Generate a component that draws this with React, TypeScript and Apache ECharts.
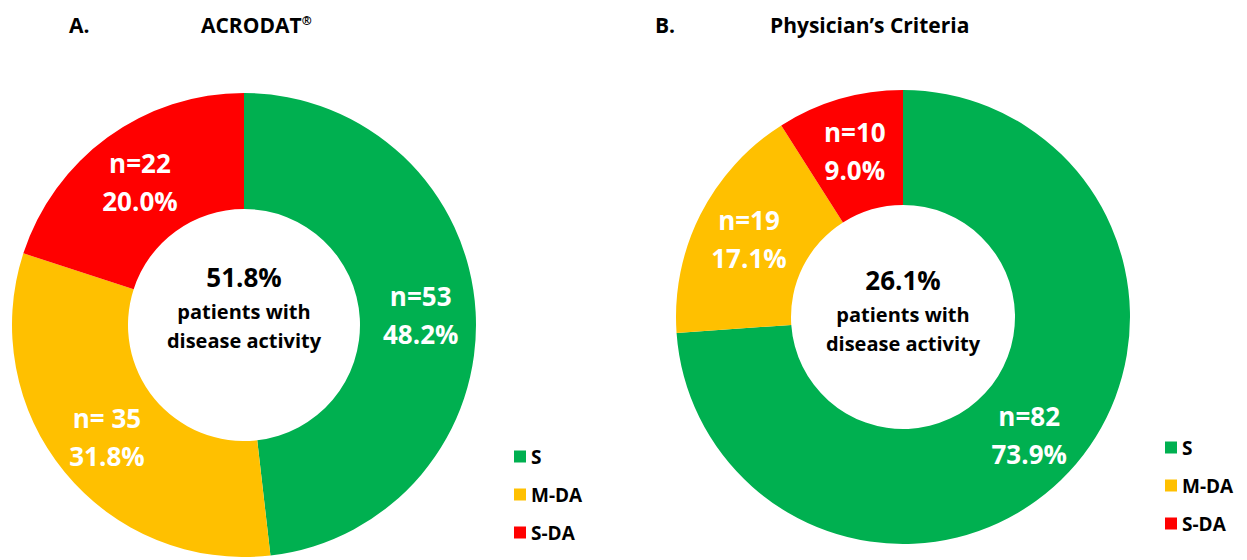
import React, { useEffect, useRef } from "react";
import * as echarts from "echarts";

const categories = ["S", "M-DA", "S-DA"];
const colors = ["#00B050", "#FFC000", "#FF0000"];
const acrodatValues = [53, 35, 22];
const acrodatPrefixes = ["n=", "n= ", "n="];
const physicianValues = [82, 19, 10];
const physicianPrefixes = ["n=", "n=", "n="];
const panelTitles = ["ACRODAT{sup|®}", "Physician’s Criteria"];
const panelLetters = ["A.", "B."];
const centerSubtitle = ["patients with", "disease activity"];

const FONT = "'Open Sans', 'Noto Sans', sans-serif";

function pct(values: number[], i: number) {
  const total = values.reduce((a, b) => a + b, 0);
  return ((values[i] / total) * 100).toFixed(1);
}
function activityPct(values: number[]) {
  const total = values.reduce((a, b) => a + b, 0);
  return (((total - values[0]) / total) * 100).toFixed(1);
}

function makeSeries(values: number[], prefixes: string[], center: number[], radius: number[]) {
  return {
    type: "pie",
    center,
    radius,
    startAngle: 90,
    clockwise: true,
    avoidLabelOverlap: false,
    silent: true,
    data: categories.map((c, i) => ({
      name: c,
      value: values[i],
      itemStyle: { color: colors[i] },
    })),
    label: {
      show: true,
      position: "inside",
      color: "#fff",
      fontFamily: FONT,
      fontWeight: "bold",
      fontSize: 26,
      lineHeight: 38,
      formatter: (p: any) => `${prefixes[p.dataIndex]}${p.value}\n${pct(values, p.dataIndex)}%`,
    },
    labelLine: { show: false },
  };
}

export default function App() {
  const ref = useRef<HTMLDivElement>(null);
  useEffect(() => {
    if (!ref.current) return;
    const chart = echarts.init(ref.current, null, { renderer: "svg" });
    const centerText = (x: number, yTop: number, values: number[]) => [
      {
        type: "text",
        x,
        y: yTop,
        style: {
          text: `${activityPct(values)}%`,
          fontFamily: FONT,
          fontWeight: "bold",
          fontSize: 26,
          fill: "#000",
          textAlign: "center",
          textVerticalAlign: "middle",
        },
      },
      {
        type: "text",
        x,
        y: yTop + 34,
        style: {
          text: centerSubtitle[0],
          fontFamily: FONT,
          fontWeight: "bold",
          fontSize: 20,
          fill: "#000",
          textAlign: "center",
          textVerticalAlign: "middle",
        },
      },
      {
        type: "text",
        x,
        y: yTop + 63,
        style: {
          text: centerSubtitle[1],
          fontFamily: FONT,
          fontWeight: "bold",
          fontSize: 20,
          fill: "#000",
          textAlign: "center",
          textVerticalAlign: "middle",
        },
      },
    ];
    const titleText = (x: number, text: string) => ({
      type: "text",
      x,
      y: 25,
      style: {
        text,
        fontFamily: FONT,
        fontWeight: "bold",
        fontSize: 21,
        fill: "#000",
        textAlign: "left",
        textVerticalAlign: "middle",
        rich: {
          sup: {
            fontFamily: FONT,
            fontWeight: "bold",
            fontSize: 12,
            verticalAlign: "top",
            padding: [0, 0, 10, 0],
            fill: "#000",
          },
        },
      },
    });
    const legendCommon = {
      orient: "vertical",
      icon: "rect",
      itemWidth: 12,
      itemHeight: 12,
      itemGap: 19,
      selectedMode: false,
      data: categories,
      textStyle: {
        fontFamily: FONT,
        fontWeight: "bold",
        fontSize: 19,
        lineHeight: 19,
        color: "#000",
        padding: [0, 0, 0, 0],
      },
    };
    chart.setOption({
      animation: false,
      backgroundColor: "#fff",
      legend: [
        { ...legendCommon, left: 509, top: 442 },
        { ...legendCommon, left: 1160, top: 433 },
      ],
      series: [
        makeSeries(acrodatValues, acrodatPrefixes, [244, 325], [116, 232]),
        makeSeries(physicianValues, physicianPrefixes, [903, 317], [112, 227]),
      ],
      graphic: [
        titleText(69, panelLetters[0]),
        titleText(201, panelTitles[0]),
        titleText(655, panelLetters[1]),
        titleText(770, panelTitles[1]),
        ...centerText(244, 277, acrodatValues),
        ...centerText(903, 280, physicianValues),
      ],
    });
    return () => chart.dispose();
  }, []);
  return (
    <div
      ref={ref}
      style={{ position: "absolute", left: 0, top: 0, width: 1247, height: 560 }}
    />
  );
}
